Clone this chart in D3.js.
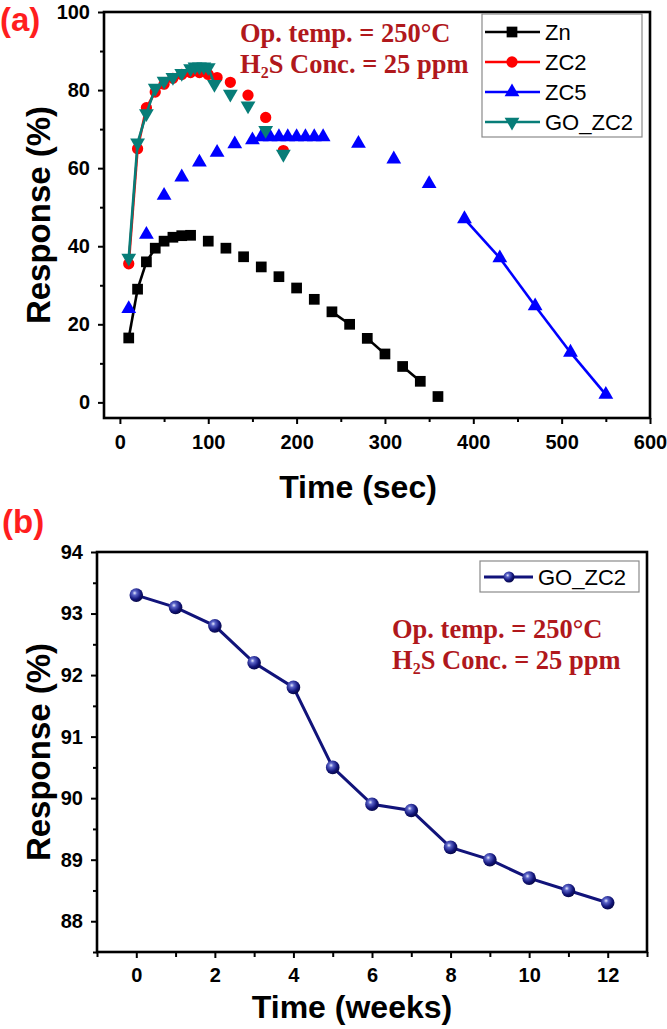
<!DOCTYPE html>
<html><head><meta charset="utf-8">
<script src="https://cdn.jsdelivr.net/npm/d3@7"></script>
<style>
body{margin:0;background:#fff;}
svg{display:block;}
</style></head>
<body>
<svg id="c" width="667" height="1029" font-family="'Liberation Sans',Arial,sans-serif"></svg>
<script>
// ---------- DATA: panel (a) ----------
const znTime   = [10,20,30,40,50,60,70,80,100,120,140,160,180,200,220,240,260,280,300,320,340,360];
const znResp   = [16.5,29,36,39.5,41.3,42.3,42.7,42.8,41.3,39.5,37.3,34.7,32.2,29.3,26.4,23.2,20,16.4,12.4,9.2,5.4,1.5];
const znJoin   = [0,1,1,1,1,1,1,1,0,0,0,0,0,0,0,0,1,0,1,0,1,0];

const zc2Time  = [10,20,30,40,50,60,70,80,90,100,110,125,145,165,185];
const zc2Resp  = [35.5,65,75.5,79.5,81.5,83,84,84.5,84.5,84,83.2,82,78.7,73,64.5];
const zc2Join  = [0,1,1,1,1,1,1,1,1,1,1,0,0,0,0];

const zc5Time  = [10,30,50,70,90,110,130,150,160,170,180,190,200,210,220,230,270,310,350,390,430,470,510,550];
const zc5Resp  = [24,43,53,57.7,61.5,64,66.2,67.2,68,68,68,68,68,68,68,68,66.3,62.3,56,47,37,24.7,12.8,2];
const zc5Join  = [0,0,0,0,0,0,0,0,0,1,1,1,1,1,1,1,0,0,0,0,1,1,1,1];

const goTime   = [10,20,30,40,50,60,70,80,85,90,95,100,107,125,145,165,185];
const goResp   = [37,66.5,74,80.5,82.3,83.3,84.3,85.5,86,86,86,85.8,81.5,79,76,69.7,63.6];
const goJoin   = [0,1,1,1,1,1,1,1,1,1,1,1,1,0,0,0,0];

const seriesNamesA = ["Zn","ZC2","ZC5","GO_ZC2"];
const xTicksA = [0,100,200,300,400,500,600];
const yTicksA = [0,20,40,60,80,100];

// ---------- DATA: panel (b) ----------
const weeks    = [0,1,2,3,4,5,6,7,8,9,10,11,12];
const stabResp = [93.3,93.1,92.8,92.2,91.8,90.5,89.9,89.8,89.2,89.0,88.7,88.5,88.3];
const xTicksB = [0,2,4,6,8,10,12];
const yTicksB = [88,89,90,91,92,93,94];

const annot1 = "Op. temp. = 250°C";
const annot2 = ["H","2","S Conc. = 25 ppm"];

// ---------- drawing ----------
const svg = d3.select("#c");
const annotColor = "#b0181c";
const labelRed = "#ff1e1e";
const serif = "'Liberation Serif','Times New Roman',serif";

function frame(g, x0, x1, y0, y1){
  g.append("rect").attr("x",x0).attr("y",y0).attr("width",x1-x0).attr("height",y1-y0)
    .attr("fill","none").attr("stroke","#000").attr("stroke-width",2.6);
}
function styleAxis(sel, fs){
  sel.attr("font-family",null);
  sel.select(".domain").remove();
  sel.selectAll(".tick line").attr("stroke","#000").attr("stroke-width",2);
  sel.selectAll(".tick text").attr("fill","#000").attr("font-size",fs).attr("font-weight","bold");
}

// ===== Panel (a) =====
const aTop = 12, aBot = 418, aL = 104, aR = 650;
const xa = d3.scaleLinear().domain([-18,600]).range([aL,aR]);
const ya = d3.scaleLinear().domain([-4,100]).range([aBot,aTop]);
const ga = svg.append("g");

ga.append("g").attr("transform",`translate(0,${aBot})`)
  .call(d3.axisBottom(xa).tickValues(d3.range(50,600,100)).tickSize(4).tickFormat(""))
  .call(s=>styleAxis(s,20));
ga.append("g").attr("transform",`translate(0,${aBot})`)
  .call(d3.axisBottom(xa).tickValues(xTicksA).tickSize(6).tickPadding(11).tickFormat(d3.format("d")))
  .call(s=>styleAxis(s,20));
ga.append("g").attr("transform",`translate(${aL},0)`)
  .call(d3.axisLeft(ya).tickValues(d3.range(10,100,20)).tickSize(4).tickFormat(""))
  .call(s=>styleAxis(s,20));
ga.append("g").attr("transform",`translate(${aL},0)`)
  .call(d3.axisLeft(ya).tickValues(yTicksA).tickSize(6).tickPadding(8).tickFormat(d3.format("d")))
  .call(s=>styleAxis(s,20));
frame(ga, aL, aR, aTop, aBot);

const symSquare = d3.symbol().type(d3.symbolSquare).size(115);
const symCircle = d3.symbol().type(d3.symbolCircle).size(100);
const symTri    = d3.symbol().type(d3.symbolTriangle).size(95);

const seriesA = [
  {name:seriesNamesA[0], t:znTime, r:znResp, j:znJoin, color:"#000000", sym:symSquare, rot:0},
  {name:seriesNamesA[1], t:zc2Time, r:zc2Resp, j:zc2Join, color:"#ff0000", sym:symCircle, rot:0},
  {name:seriesNamesA[2], t:zc5Time, r:zc5Resp, j:zc5Join, color:"#0000ff", sym:symTri, rot:0},
  {name:seriesNamesA[3], t:goTime, r:goResp, j:goJoin, color:"#077d78", sym:symTri, rot:180}
];

seriesA.forEach(s=>{
  const pts = s.t.map((t,i)=>({x:t,y:s.r[i],j:s.j[i]}));
  const segs = [];
  for(let i=1;i<pts.length;i++){ if(pts[i].j) segs.push([pts[i-1],pts[i]]); }
  const line = d3.line().x(d=>xa(d.x)).y(d=>ya(d.y));
  const g = ga.append("g");
  g.selectAll("path.seg").data(segs).join("path").attr("class","seg")
    .attr("d",line).attr("fill","none").attr("stroke",s.color).attr("stroke-width",2.6);
  g.selectAll("path.pt").data(pts).join("path").attr("class","pt")
    .attr("d",s.sym()).attr("fill",s.color)
    .attr("transform",d=>`translate(${xa(d.x)},${ya(d.y)}) rotate(${s.rot})`);
});

// legend (a)
const lga = ga.append("g");
lga.append("rect").attr("x",482).attr("y",14).attr("width",160).attr("height",123)
  .attr("fill","#fff").attr("stroke","#8a8a8a").attr("stroke-width",1.2);
seriesA.forEach((s,i)=>{
  const y = 32 + i*30;
  lga.append("line").attr("x1",485).attr("x2",540).attr("y1",y).attr("y2",y)
    .attr("stroke",s.color).attr("stroke-width",2.6);
  lga.append("path").attr("d",s.sym()).attr("fill",s.color)
    .attr("transform",`translate(512,${y}) rotate(${s.rot})`);
  lga.append("text").attr("x",545).attr("y",y+8).attr("font-size",22).attr("fill","#000").text(s.name);
});

function annot(g, x, y){
  const t = g.append("text").attr("x",x).attr("y",y).attr("fill",annotColor)
    .attr("font-family",serif).attr("font-weight","bold").attr("font-size",26.5);
  t.text(annot1);
  const t2 = g.append("text").attr("x",x).attr("y",y+31).attr("fill",annotColor)
    .attr("font-family",serif).attr("font-weight","bold").attr("font-size",26.5);
  t2.append("tspan").text(annot2[0]);
  t2.append("tspan").attr("font-size",16).attr("dy",5).text(annot2[1]);
  t2.append("tspan").attr("dy",-5).text(annot2[2]);
}
annot(ga, 240, 42);

ga.append("text").attr("x",0).attr("y",31).attr("fill",labelRed).attr("font-size",33).attr("font-weight","bold").text("(a)");
ga.append("text").attr("transform","translate(50,215) rotate(-90)").attr("text-anchor","middle")
  .attr("font-size",33).attr("font-weight","bold").attr("fill","#000").text("Response (%)");
ga.append("text").attr("x",358).attr("y",498).attr("text-anchor","middle")
  .attr("font-size",32).attr("font-weight","bold").attr("fill","#000").text("Time (sec)");

// ===== Panel (b) =====
const bTop = 552, bBot = 952, bL = 97, bR = 647;
const xb = d3.scaleLinear().domain([-1,13]).range([bL,bR]);
const yb = d3.scaleLinear().domain([87.5,94]).range([bBot,bTop]);
const gb = svg.append("g");

gb.append("g").attr("transform",`translate(0,${bBot})`)
  .call(d3.axisBottom(xb).tickValues(d3.range(-1,14,2)).tickSize(5).tickFormat(""))
  .call(s=>styleAxis(s,20));
gb.append("g").attr("transform",`translate(0,${bBot})`)
  .call(d3.axisBottom(xb).tickValues(xTicksB).tickSize(6).tickPadding(10).tickFormat(d3.format("d")))
  .call(s=>styleAxis(s,20));
gb.append("g").attr("transform",`translate(${bL},0)`)
  .call(d3.axisLeft(yb).tickValues(d3.range(87.5,94,1)).tickSize(4).tickFormat(""))
  .call(s=>styleAxis(s,20));
gb.append("g").attr("transform",`translate(${bL},0)`)
  .call(d3.axisLeft(yb).tickValues(yTicksB).tickSize(6).tickPadding(8).tickFormat(d3.format("d")))
  .call(s=>styleAxis(s,20));
frame(gb, bL, bR, bTop, bBot);

const defs = svg.append("defs");
const rg = defs.append("radialGradient").attr("id","ball").attr("cx","0.38").attr("cy","0.35").attr("r","0.65");
rg.append("stop").attr("offset","0").attr("stop-color","#e8ecff");
rg.append("stop").attr("offset","0.25").attr("stop-color","#5a63c8");
rg.append("stop").attr("offset","0.7").attr("stop-color","#12157a");
rg.append("stop").attr("offset","1").attr("stop-color","#07084a");

const navy = "#11137a";
const ptsB = weeks.map((w,i)=>({x:w,y:stabResp[i]}));
gb.append("path").datum(ptsB).attr("d",d3.line().x(d=>xb(d.x)).y(d=>yb(d.y)))
  .attr("fill","none").attr("stroke",navy).attr("stroke-width",3);
gb.selectAll("circle.b").data(ptsB).join("circle").attr("class","b")
  .attr("cx",d=>xb(d.x)).attr("cy",d=>yb(d.y)).attr("r",6.8).attr("fill","url(#ball)");

const lgb = gb.append("g");
lgb.append("rect").attr("x",480).attr("y",561).attr("width",159).attr("height",31)
  .attr("fill","#fff").attr("stroke","#8a8a8a").attr("stroke-width",1.2);
lgb.append("line").attr("x1",484).attr("x2",533).attr("y1",577).attr("y2",577).attr("stroke",navy).attr("stroke-width",3);
lgb.append("circle").attr("cx",509).attr("cy",577).attr("r",5.5).attr("fill","url(#ball)");
lgb.append("text").attr("x",538).attr("y",585).attr("font-size",22).attr("fill","#000").text("GO_ZC2");

annot(gb, 392, 638);

gb.append("text").attr("x",2).attr("y",533).attr("fill",labelRed).attr("font-size",33).attr("font-weight","bold").text("(b)");
gb.append("text").attr("transform","translate(50,752) rotate(-90)").attr("text-anchor","middle")
  .attr("font-size",33).attr("font-weight","bold").attr("fill","#000").text("Response (%)");
gb.append("text").attr("x",352).attr("y",1018).attr("text-anchor","middle")
  .attr("font-size",32).attr("font-weight","bold").attr("fill","#000").text("Time (weeks)");
</script>
</body></html>
